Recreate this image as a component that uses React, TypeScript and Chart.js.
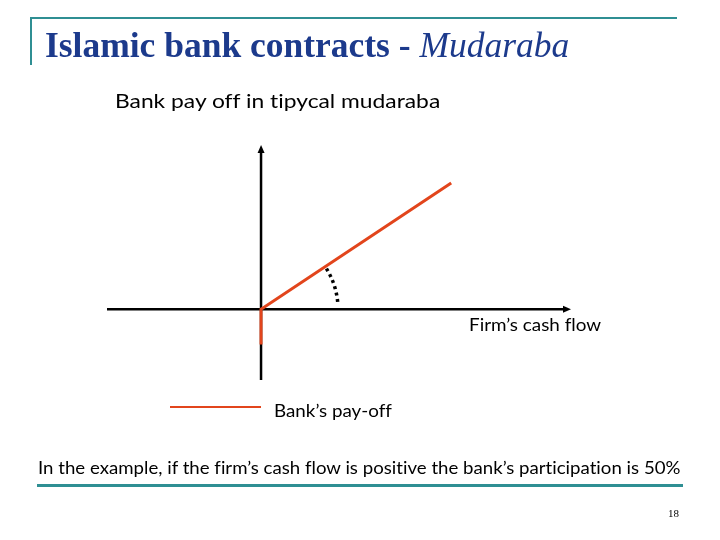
import React, { useEffect, useRef, useState } from "react";
import { Chart, registerables } from "chart.js";

Chart.register(...registerables);

// ---- data ----
const payoffX = [0, 0, 100];
const payoffY = [-14, 0, 50];
const xRange = [-81, 163];
const yRange = [-28, 65];
const seriesLabel = "Bank\u2019s pay-off";
const xAxisLabel = "Firm\u2019s cash flow";
const chartTitle = "Bank pay off in tipycal mudaraba";
const footnote = "In the example, if the firm\u2019s cash flow is positive the bank\u2019s participation is 50%";
const slideTitleMain = "Islamic bank contracts - ";
const slideTitleItalic = "Mudaraba";
const pageNumber = "18";

const ORANGE = "#e2451c";
const TEAL = "#2f8f93";
const NAVY = "#1c3a8c";

const axesPlugin = {
  id: "payoffAxes",
  beforeDatasetsDraw(chart: any) {
    const { ctx, chartArea, scales } = chart;
    const x0 = scales.x.getPixelForValue(0);
    const y0 = scales.y.getPixelForValue(0);
    ctx.save();
    ctx.strokeStyle = "#000";
    ctx.fillStyle = "#000";
    ctx.lineWidth = 2.5;
    // horizontal axis
    ctx.beginPath();
    ctx.moveTo(chartArea.left, y0);
    ctx.lineTo(chartArea.right - 6, y0);
    ctx.stroke();
    ctx.beginPath();
    ctx.moveTo(chartArea.right, y0);
    ctx.lineTo(chartArea.right - 8, y0 - 3.5);
    ctx.lineTo(chartArea.right - 8, y0 + 3.5);
    ctx.closePath();
    ctx.fill();
    // vertical axis
    ctx.beginPath();
    ctx.moveTo(x0, chartArea.bottom);
    ctx.lineTo(x0, chartArea.top + 6);
    ctx.stroke();
    ctx.beginPath();
    ctx.moveTo(x0, chartArea.top);
    ctx.lineTo(x0 - 3.5, chartArea.top + 8);
    ctx.lineTo(x0 + 3.5, chartArea.top + 8);
    ctx.closePath();
    ctx.fill();
    // dotted angle arc
    const xe = scales.x.getPixelForValue(payoffX[2]);
    const ye = scales.y.getPixelForValue(payoffY[2]);
    const ang = Math.atan2(ye - y0, xe - x0);
    ctx.setLineDash([3, 3.5]);
    ctx.lineWidth = 3.5;
    ctx.beginPath();
    ctx.arc(x0, y0, 77, ang + 0.03, -0.05);
    ctx.stroke();
    ctx.restore();
  },
};

function FitText({ children, width, style }: { children: React.ReactNode; width: number; style: React.CSSProperties }) {
  const ref = useRef<HTMLSpanElement>(null);
  const [sx, setSx] = useState(1);
  useEffect(() => {
    if (ref.current) {
      const w = ref.current.scrollWidth;
      if (w > 0) setSx(width / w);
    }
  }, [width]);
  return (
    <span
      ref={ref}
      style={{
        ...style,
        position: "absolute",
        whiteSpace: "nowrap",
        transformOrigin: "0 0",
        transform: `scaleX(${sx})`,
        fontVariantLigatures: "none",
      }}
    >
      {children}
    </span>
  );
}

export default function App() {
  const canvasRef = useRef<HTMLCanvasElement>(null);

  useEffect(() => {
    document.body.style.margin = "0";
    const canvas = canvasRef.current;
    if (!canvas) return;
    const chart = new Chart(canvas, {
      type: "scatter",
      data: {
        datasets: [
          {
            label: seriesLabel,
            data: payoffX.map((x, i) => ({ x, y: payoffY[i] })),
            showLine: true,
            borderColor: ORANGE,
            borderWidth: 3,
            pointRadius: 0,
            borderJoinStyle: "miter",
            fill: false,
          },
        ],
      },
      options: {
        animation: false,
        responsive: false,
        layout: { padding: { left: 107, right: 149, top: 145, bottom: 160 } },
        scales: {
          x: { type: "linear", min: xRange[0], max: xRange[1], display: false },
          y: { type: "linear", min: yRange[0], max: yRange[1], display: false },
        },
        plugins: { legend: { display: false }, tooltip: { enabled: false }, title: { display: false } },
      },
      plugins: [axesPlugin],
    });
    return () => chart.destroy();
  }, []);

  const sans = "Lato, 'Open Sans', sans-serif";

  return (
    <div style={{ position: "absolute", left: 0, top: 0, width: 720, height: 540, background: "#fff", overflow: "hidden" }}>
      <canvas ref={canvasRef} width={720} height={540} style={{ position: "absolute", left: 0, top: 0 }} />
      {/* frame lines */}
      <div style={{ position: "absolute", left: 30, top: 17, width: 647, height: 2, background: TEAL }} />
      <div style={{ position: "absolute", left: 30, top: 17, width: 2, height: 48, background: TEAL }} />
      <div style={{ position: "absolute", left: 37, top: 484, width: 646, height: 2.5, background: TEAL }} />
      {/* slide title */}
      <FitText
        width={524}
        style={{
          left: 45,
          top: 25,
          fontFamily: "'Liberation Serif', 'DejaVu Serif', serif",
          fontSize: 35,
          color: NAVY,
          lineHeight: "42px",
        }}
      >
        <span style={{ fontWeight: "bold" }}>{slideTitleMain}</span>
        <span style={{ fontStyle: "italic" }}>{slideTitleItalic}</span>
      </FitText>
      {/* chart title */}
      <FitText width={325} style={{ left: 115, top: 88, fontFamily: sans, fontSize: 20, color: "#000", lineHeight: "24px" }}>
        {chartTitle}
      </FitText>
      {/* x axis label */}
      <FitText width={132} style={{ left: 469, top: 313, fontFamily: sans, fontSize: 18, color: "#000", lineHeight: "22px" }}>
        {xAxisLabel}
      </FitText>
      {/* legend */}
      <div style={{ position: "absolute", left: 170, top: 406, width: 91, height: 2, background: ORANGE }} />
      <FitText width={118} style={{ left: 274, top: 399, fontFamily: sans, fontSize: 18, color: "#000", lineHeight: "22px" }}>
        {seriesLabel}
      </FitText>
      {/* footnote */}
      <FitText width={642} style={{ left: 38, top: 456, fontFamily: sans, fontSize: 18, color: "#000", lineHeight: "22px" }}>
        {footnote}
      </FitText>
      <div style={{ position: "absolute", left: 668, top: 507, fontFamily: "'Liberation Serif', serif", fontSize: 11, color: "#000" }}>
        {pageNumber}
      </div>
    </div>
  );
}
